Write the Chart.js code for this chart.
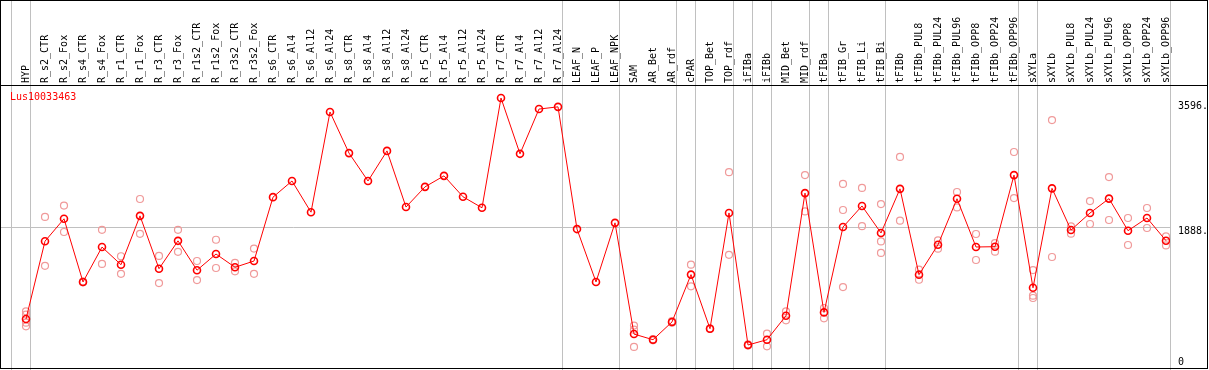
<!DOCTYPE html>
<html>
<head>
<meta charset="utf-8">
<script src="https://cdn.jsdelivr.net/npm/chart.js@4.4.0/dist/chart.umd.min.js"></script>
<style>
  body { margin: 0; background: #fff; }
  canvas { display: block; }
</style>
</head>
<body>
<canvas id="chart" width="1209" height="370"></canvas>
<script>
var geneName = 'Lus10033463';

var categories = ['HYP', 'R_s2_CTR', 'R_s2_Fox', 'R_s4_CTR', 'R_s4_Fox', 'R_r1_CTR', 'R_r1_Fox',
  'R_r3_CTR', 'R_r3_Fox', 'R_r1s2_CTR', 'R_r1s2_Fox', 'R_r3s2_CTR', 'R_r3s2_Fox',
  'R_s6_CTR', 'R_s6_Al4', 'R_s6_Al12', 'R_s6_Al24', 'R_s8_CTR', 'R_s8_Al4', 'R_s8_Al12', 'R_s8_Al24',
  'R_r5_CTR', 'R_r5_Al4', 'R_r5_Al12', 'R_r5_Al24', 'R_r7_CTR', 'R_r7_Al4', 'R_r7_Al12', 'R_r7_Al24',
  'LEAF_N', 'LEAF_P', 'LEAF_NPK', 'SAM', 'AR_Bet', 'AR_rdf', 'cPAR', 'TOP_Bet', 'TOP_rdf',
  'iFIBa', 'iFIBb', 'MID_Bet', 'MID_rdf', 'tFIBa', 'tFIB_Gr', 'tFIB_Li', 'tFIB_Bi',
  'tFIBb', 'tFIBb_PUL8', 'tFIBb_PUL24', 'tFIBb_PUL96', 'tFIBb_OPP8', 'tFIBb_OPP24', 'tFIBb_OPP96',
  'sXYLa', 'sXYLb', 'sXYLb_PUL8', 'sXYLb_PUL24', 'sXYLb_PUL96', 'sXYLb_OPP8', 'sXYLb_OPP24', 'sXYLb_OPP96'];

// mean expression per sample
var means = [640, 1700, 2005, 1145, 1620, 1380, 2045, 1325, 1705, 1305, 1525, 1345, 1430,
  2300, 2520, 2095, 3460, 2900, 2520, 2930, 2165,
  2440, 2590, 2305, 2155, 3650, 2890, 3500, 3530,
  1865, 1145, 1950, 435, 358, 600, 1245, 508, 2085,
  286, 358, 685, 2355, 730, 1893, 2180, 1812,
  2413, 1244, 1652, 2278, 1621, 1625, 2600,
  1065, 2420, 1852, 2084, 2280, 1843, 2016, 1707];

// individual replicates per sample (empty = none shown)
var replicates = [[745, 700, 590, 540], [2030, 1365], [2185, 1825], [1150, 1140], [1855, 1390],
  [1495, 1255], [2275, 1800], [1500, 1130], [1855, 1555], [1430, 1170], [1720, 1335],
  [1405, 1290], [1600, 1255],
  [], [], [], [], [], [], [], [], [], [], [], [], [], [], [], [],
  [], [], [],
  [550, 495, 260], [365, 350], [610, 590], [1380, 1085], [512, 505], [2640, 1515],
  [295, 278], [440, 268], [745, 622], [2600, 2105], [790, 650],
  [2480, 2125, 1075], [2425, 1905], [2205, 1697, 1540],
  [2848, 1980], [1312, 1175], [1710, 1598], [2370, 2160], [1798, 1444], [1675, 1557], [2915, 2288],
  [1307, 958, 926], [3350, 1485], [1902, 1802], [2247, 1934], [2574, 1989], [2016, 1648],
  [2152, 1880], [1765, 1643]];

// last sample index of each group (-1 = before the first)
var groupEnds = [-1, 0, 28, 31, 34, 35, 37, 38, 39, 41, 42, 45, 52, 53, 60];

var yTicks = [0, 1888, 3596];
var yTickLabels = ['0', '1888.', '3596.'];

var meanPoints = means.map(function (v, i) { return { x: i, y: v }; });
var repPoints = [];
replicates.forEach(function (list, i) {
  list.forEach(function (v) { repPoints.push({ x: i, y: v }); });
});

var monoFont = '10px "DejaVu Sans Mono", monospace';

var framePlugin = {
  id: 'frame',
  beforeDraw: function (chart) {
    var ctx = chart.ctx, xs = chart.scales.x;
    ctx.save();
    ctx.strokeStyle = '#c0c0c0';
    ctx.lineWidth = 1;
    groupEnds.forEach(function (g) {
      var px = Math.round(xs.getPixelForValue(g) + 4) + 0.5;
      ctx.beginPath();
      ctx.moveTo(px, 0);
      ctx.lineTo(px, chart.height);
      ctx.stroke();
    });
    ctx.restore();
  },
  afterDraw: function (chart) {
    var ctx = chart.ctx, ys = chart.scales.y, area = chart.chartArea;
    ctx.save();
    ctx.strokeStyle = '#000';
    ctx.lineWidth = 1;
    ctx.strokeRect(0.5, 0.5, chart.width - 2, chart.height - 2);
    ctx.beginPath();
    ctx.moveTo(0, area.top - 0.5);
    ctx.lineTo(chart.width - 1, area.top - 0.5);
    ctx.stroke();

    ctx.font = monoFont;
    ctx.textBaseline = 'middle';
    ctx.textAlign = 'left';
    ctx.fillStyle = '#000';
    yTicks.forEach(function (v, i) {
      var py = Math.min(ys.getPixelForValue(v) + 4, area.bottom - 4);
      ctx.fillText(yTickLabels[i], area.right + 8, py);
    });

    ctx.fillStyle = '#ff0000';
    ctx.fillText(geneName, 10, area.top + 11);
    ctx.restore();
  }
};

var config = {
  type: 'line',
  data: {
    datasets: [{
      label: geneName,
      data: meanPoints,
      borderColor: '#ff0000',
      borderWidth: 1,
      pointRadius: 3.5,
      pointBorderWidth: 1.6,
      pointBorderColor: '#ff0000',
      pointBackgroundColor: 'rgba(0,0,0,0)',
      tension: 0,
      order: 0
    }, {
      type: 'scatter',
      label: 'replicates',
      data: repPoints,
      showLine: false,
      pointRadius: 3.5,
      pointBorderWidth: 1.2,
      pointBorderColor: '#f09a9a',
      pointBackgroundColor: 'rgba(0,0,0,0)',
      order: 1
    }]
  },
  options: {
    responsive: false,
    animation: false,
    layout: {
      autoPadding: false,
      padding: { left: 1, right: 0, top: 0, bottom: 4 }
    },
    scales: {
      x: {
        type: 'linear',
        position: 'top',
        min: -25 / 19,
        max: 60 + 4 / 19,
        afterBuildTicks: function (scale) {
          scale.ticks = categories.map(function (c, i) { return { value: i }; });
        },
        afterFit: function (scale) {
          scale.height = 86;
          scale.paddingLeft = 0;
          scale.paddingRight = 0;
        },
        grid: { display: false, drawTicks: false },
        border: { display: false },
        ticks: {
          autoSkip: false,
          maxRotation: 90,
          minRotation: 90,
          padding: 3,
          labelOffset: 12,
          color: '#000',
          font: { family: '"DejaVu Sans Mono", monospace', size: 10 },
          callback: function (value) { return categories[value]; }
        }
      },
      y: {
        type: 'linear',
        position: 'right',
        min: 0,
        max: 3814,
        afterBuildTicks: function (scale) {
          scale.ticks = yTicks.map(function (v) { return { value: v }; });
        },
        afterFit: function (scale) {
          scale.width = 39;
          scale.paddingTop = 0;
          scale.paddingBottom = 0;
        },
        grid: {
          drawTicks: false,
          color: function (ctx) { return ctx.tick && ctx.tick.value === 1888 ? '#c0c0c0' : 'rgba(0,0,0,0)'; }
        },
        border: { display: false },
        ticks: { display: false }
      }
    },
    plugins: {
      legend: { display: false },
      tooltip: { enabled: false }
    }
  },
  plugins: [framePlugin]
};

window.onload = function () {
  var ctx = document.getElementById('chart').getContext('2d');
  window.myChart = new Chart(ctx, config);
};
</script>
</body>
</html>
